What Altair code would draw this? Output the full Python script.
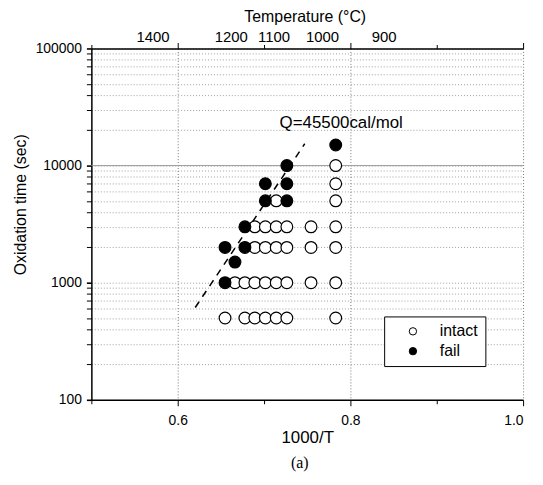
import altair as alt
import pandas as pd

# ---- data ----
# 1000/T positions of the test temperatures (1250 ... 1000 C)
pt_x = [
    # intact
    0.6548, 0.6778, 0.6893, 0.7015, 0.7141, 0.7264, 0.7830,            # 500 s
    0.6663, 0.6778, 0.6893, 0.7015, 0.7141, 0.7264, 0.7544, 0.7830,    # 1000 s
    0.6893, 0.7015, 0.7141, 0.7264, 0.7544, 0.7830,                    # 2000 s
    0.6893, 0.7015, 0.7141, 0.7264, 0.7544, 0.7830,                    # 3000 s
    0.7141, 0.7830,                                                    # 5000 s
    0.7830,                                                            # 7000 s
    0.7830,                                                            # 10000 s
    # fail
    0.6548,                                                            # 1000 s
    0.6663,                                                            # 1500 s
    0.6548, 0.6778,                                                    # 2000 s
    0.6778,                                                            # 3000 s
    0.7015, 0.7264,                                                    # 5000 s
    0.7015, 0.7264,                                                    # 7000 s
    0.7264,                                                            # 10000 s
    0.7830,                                                            # 15000 s
]
pt_y = (
    [500] * 7 + [1000] * 8 + [2000] * 6 + [3000] * 6 + [5000] * 2 + [7000] + [10000]
    + [1000] + [1500] + [2000] * 2 + [3000] + [5000] * 2 + [7000] * 2 + [10000] + [15000]
)
pt_status = ["intact"] * 31 + ["fail"] * 11

line_x = [0.6203, 0.7471]
line_y = [614, 15350]

q_x = [0.718]
q_y = [23300]
q_text = ["Q=45500cal/mol"]

ref_rule_y = [10000]

temp_labels = ["1400", "1200", "1100", "1000", "900"]
temp_pos = [0.5713, 0.6621, 0.7115, 0.7678, 0.8391]

x_ticks = [0.5, 0.6, 0.7, 0.8, 0.9, 1.0]
y_ticks = [m * 10 ** e for e in range(2, 5) for m in range(1, 10)] + [100000]

pts = pd.DataFrame({"x": pt_x, "y": pt_y, "status": pt_status})
line_df = pd.DataFrame({"x": line_x, "y": line_y})
q_df = pd.DataFrame({"x": q_x, "y": q_y, "t": q_text})
rule_df = pd.DataFrame({"y": ref_rule_y})
temp_df = pd.DataFrame({"x": temp_pos, "t": temp_labels})
ttl_df = pd.DataFrame({"t": ["Temperature (°C)"]})
cap_df = pd.DataFrame({"t": ["(a)"]})

W, H = 435, 354
FONT = "Liberation Sans"

xscale = alt.Scale(domain=[0.5, 1.0], nice=False, zero=False)
yscale = alt.Scale(type="log", domain=[100, 100000], nice=False)

xaxis = alt.Axis(
    title="1000/T",
    values=x_ticks,
    labelExpr="indexof([0.6, 0.8, 1], datum.value) >= 0 ? format(datum.value, '.1f') : ''",
    grid=True,
    gridColor="#777777",
    gridDash=[1, 2],
    gridOpacity={"condition": {"test": "indexof([0.6, 0.8, 1], datum.value) >= 0", "value": 1}, "value": 0},
    tickSize={"condition": {"test": "indexof([0.6, 0.8, 1], datum.value) >= 0", "value": 6}, "value": 4},
    labelPadding=8,
    titlePadding=2,
    titleFontSize=17,
)
yaxis = alt.Axis(
    title="Oxidation time (sec)",
    values=y_ticks,
    format="d",
    labelExpr="indexof([100, 1000, 10000, 100000], datum.value) >= 0 ? datum.label : ''",
    grid=True,
    gridColor="#888888",
    gridDash=[1, 2],
    gridWidth=0.8,
    tickSize=5,
    tickWidth={"condition": {"test": "indexof([100, 1000, 10000, 100000], datum.value) >= 0", "value": 1.6}, "value": 1},
    labelPadding=5,
    titlePadding=7,
    titleY=157,
)

X = alt.X("x:Q", scale=xscale, axis=xaxis)
Y = alt.Y("y:Q", scale=yscale, axis=yaxis)

rule = alt.Chart(rule_df).mark_rule(color="#999999", strokeWidth=1).encode(y=Y)

dash = alt.Chart(line_df).mark_line(color="black", strokeDash=[7, 6], strokeWidth=1.5).encode(x=X, y=Y)

points = alt.Chart(pts).mark_point(
    shape="circle", filled=True, stroke="black", strokeWidth=1.2, size=140, opacity=1
).encode(
    x=X,
    y=Y,
    fill=alt.Fill(
        "status:N",
        scale=alt.Scale(domain=["intact", "fail"], range=["white", "black"]),
        legend=alt.Legend(
            title=None,
            orient="none",
            legendX=295,
            legendY=270,
            strokeColor="black",
            fillColor="white",
            padding=7,
            rowPadding=4,
            symbolType="circle",
            symbolSize=55,
            symbolStrokeColor="black",
            symbolStrokeWidth=1,
            symbolOffset=14,
            labelOffset=19,
            labelFontSize=16,
            labelFont=FONT,
            labelColor="black",
        ),
    ),
)

qtext = alt.Chart(q_df).mark_text(
    align="left", baseline="middle", fontSize=17, font=FONT, color="black"
).encode(x=X, y=Y, text="t:N")

ttl = alt.Chart(ttl_df).mark_text(
    align="center", baseline="middle", fontSize=16, font=FONT, color="black"
).encode(x=alt.value(215.5), y=alt.value(-32), text="t:N")

cap = alt.Chart(cap_df).mark_text(
    align="center", baseline="middle", fontSize=16, font="Liberation Serif", color="black"
).encode(x=alt.value(210), y=alt.value(418), text="t:N")

main = alt.layer(rule, dash, points, qtext, ttl, cap)

top = alt.Chart(temp_df).mark_text(
    align="center", baseline="middle", fontSize=15, font=FONT, color="black"
).encode(
    x=alt.X(
        "x:Q",
        scale=xscale,
        axis=alt.Axis(
            orient="top",
            values=x_ticks,
            labels=False,
            title=None,
            grid=False,
            tickSize={"condition": {"test": "indexof([0.6, 0.8, 1], datum.value) >= 0", "value": 6}, "value": 4},
        ),
    ),
    y=alt.value(-12),
    text="t:N",
)

chart = (
    alt.layer(main, top)
    .resolve_scale(x="independent")
    .properties(
        width=W,
        height=H,
        autosize=alt.AutoSizeParams(type="none"),
        padding={"left": 84, "top": 39, "right": 12, "bottom": 76},
    )
    .configure_view(stroke=None)
    .configure_axis(
        labelFont=FONT,
        titleFont=FONT,
        labelFontSize=14,
        titleFontSize=16,
        labelColor="black",
        titleColor="black",
        titleFontWeight="normal",
        domainColor="black",
        domainWidth=1.5,
        tickColor="black",
    )
)

chart.save("out.html", embed_options={"renderer": "svg", "actions": False})
